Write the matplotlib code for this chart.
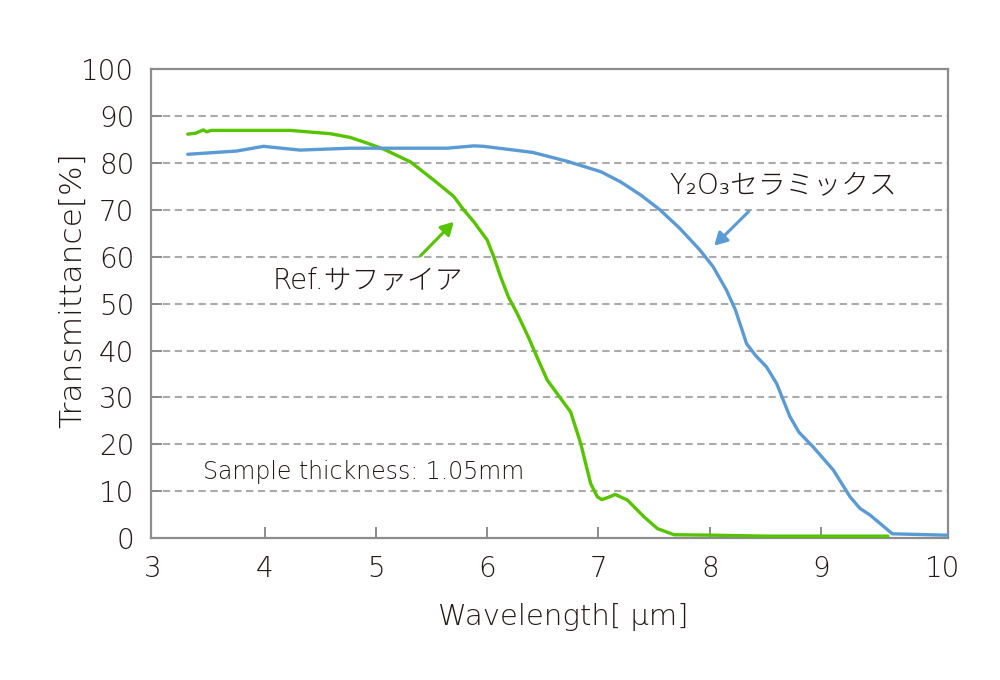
import matplotlib

matplotlib.use("Agg")
import matplotlib.pyplot as plt

plt.rcParams["font.family"] = ["DejaVu Sans", "Noto Sans CJK JP"]
plt.rcParams["font.weight"] = 200
plt.rcParams["axes.labelweight"] = 200

TEXT_COLOR = "#231815"
AXIS_COLOR = "#8c8c8c"
GRID_COLOR = "#ababab"
SAPPHIRE_COLOR = "#56c400"
Y2O3_COLOR = "#5b9bd5"

# Ref. sapphire curve
sapphire_x = [3.31, 3.38, 3.45, 3.48, 3.52, 3.80, 4.23, 4.59, 4.77, 4.92,
              5.07, 5.31, 5.52, 5.70, 5.79, 5.88, 6.00, 6.06, 6.12, 6.19,
              6.27, 6.37, 6.45, 6.54, 6.66, 6.75, 6.84, 6.93, 6.99, 7.03,
              7.09, 7.15, 7.26, 7.41, 7.53, 7.68, 8.03, 8.50, 9.00, 9.60]
sapphire_y = [86.2, 86.4, 87.1, 86.7, 87.0, 87.0, 87.0, 86.3, 85.5, 84.3,
              83.0, 80.3, 76.4, 72.9, 70.0, 67.5, 63.6, 60.0, 55.8, 51.5,
              47.9, 42.9, 38.5, 33.7, 29.8, 26.9, 20.2, 11.6, 8.8, 8.2,
              8.7, 9.3, 8.1, 4.5, 2.0, 0.7, 0.6, 0.4, 0.4, 0.4]

# Y2O3 ceramics curve
y2o3_x = [3.31, 3.75, 3.99, 4.32, 4.77, 5.64, 5.88, 5.97, 6.41, 6.72,
          7.02, 7.20, 7.38, 7.55, 7.73, 7.91, 8.03, 8.15, 8.23, 8.29,
          8.33, 8.41, 8.51, 8.60, 8.72, 8.80, 8.93, 9.11, 9.26, 9.35,
          9.44, 9.64, 10.13]
y2o3_y = [81.9, 82.6, 83.6, 82.8, 83.2, 83.2, 83.7, 83.6, 82.3, 80.4,
          78.2, 76.0, 73.2, 70.1, 66.1, 61.5, 57.9, 52.9, 48.7, 44.4,
          41.5, 39.0, 36.5, 33.0, 25.9, 22.6, 19.4, 14.5, 8.8, 6.3,
          4.9, 0.9, 0.6]

x_tick_values = [3, 4, 5, 6, 7, 8, 9, 10.09]
x_tick_labels = ["3", "4", "5", "6", "7", "8", "9", "10"]
y_tick_values = list(range(0, 101, 10))


def main():
    figure = plt.figure(figsize=(10, 6.8), dpi=100)
    axis = figure.add_axes([0.151, 0.2088, 0.797, 0.689])

    axis.plot(sapphire_x, sapphire_y, color=SAPPHIRE_COLOR, linewidth=2.4,
              solid_joinstyle="round", solid_capstyle="round", zorder=3)
    axis.plot(y2o3_x, y2o3_y, color=Y2O3_COLOR, linewidth=2.4,
              solid_joinstyle="round", solid_capstyle="round", zorder=3)

    axis.set_xlim(2.98, 10.14)
    axis.set_ylim(0, 100)

    for value in y_tick_values[1:-1]:
        axis.axhline(value, color=GRID_COLOR, linewidth=1.5,
                     linestyle=(0, (3.5, 2.2)), zorder=1)

    axis.set_xticks(x_tick_values)
    axis.set_xticklabels(x_tick_labels)
    axis.set_yticks(y_tick_values)
    axis.tick_params(axis="both", direction="in", length=8, width=1.4,
                     color=AXIS_COLOR, labelsize=20, labelcolor=TEXT_COLOR)
    axis.tick_params(axis="x", pad=12)
    axis.tick_params(axis="y", pad=12)
    x_ticks = axis.get_xaxis().get_major_ticks()
    x_ticks[0].tick1line.set_visible(False)
    x_ticks[-1].tick1line.set_visible(False)

    for spine in axis.spines.values():
        spine.set_color(AXIS_COLOR)
        spine.set_linewidth(1.6)

    axis.set_xlabel("Wavelength[ μm]", fontsize=21, color=TEXT_COLOR)
    axis.set_ylabel("Transmittance[%]", fontsize=22.5, color=TEXT_COLOR)
    axis.xaxis.set_label_coords(0.517, -0.139)
    axis.yaxis.set_label_coords(-0.080, 0.529)

    axis.text(4.89, 14.1, "Sample thickness: 1.05mm", fontsize=17,
              color=TEXT_COLOR, ha="center", va="center")
    axis.text(4.93, 55.1, "Ref.サファイア", fontsize=20,
              color=TEXT_COLOR, ha="center", va="center")
    axis.text(8.66, 75.2, "Y₂O₃セラミックス", fontsize=20,
              color=TEXT_COLOR, ha="center", va="center")

    axis.annotate("", xy=(5.70, 67.5), xytext=(5.40, 60.2),
                  arrowprops=dict(arrowstyle="-|>,head_length=0.75,head_width=0.42",
                                  color=SAPPHIRE_COLOR, linewidth=2.2,
                                  shrinkA=0, shrinkB=0))
    axis.annotate("", xy=(8.04, 62.4), xytext=(8.35, 69.7),
                  arrowprops=dict(arrowstyle="-|>,head_length=0.75,head_width=0.42",
                                  color=Y2O3_COLOR, linewidth=2.2,
                                  shrinkA=0, shrinkB=0))

    figure.savefig("out.png", dpi=100, facecolor="white")
    plt.close(figure)


if __name__ == "__main__":
    main()
